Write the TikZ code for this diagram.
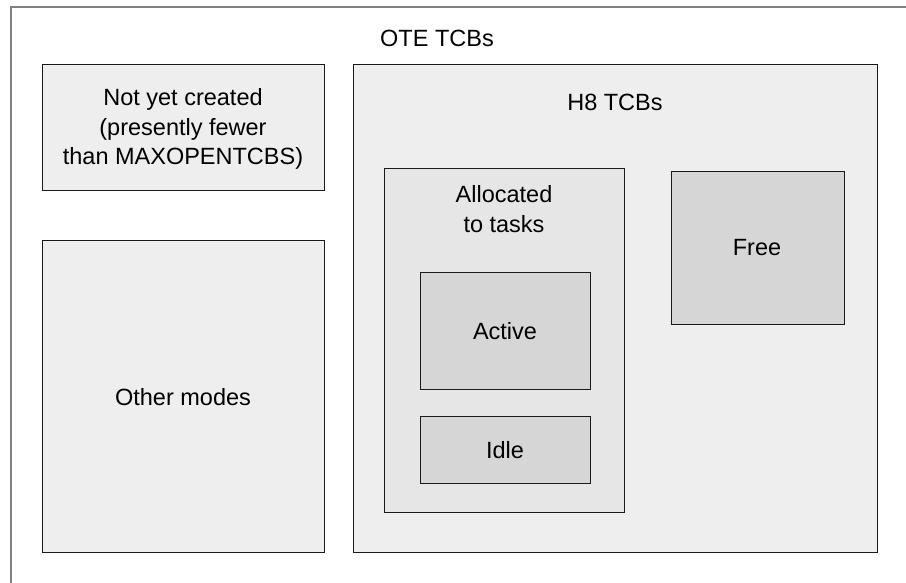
\documentclass[tikz,border=0pt]{standalone}
\usepackage{fontspec}
\setmainfont{Liberation Sans}
\definecolor{outerln}{HTML}{808080}
\definecolor{boxA}{HTML}{EEEEEE}
\definecolor{boxB}{HTML}{E6E6E6}
\definecolor{boxC}{HTML}{D6D6D6}
\definecolor{lnc}{HTML}{1A1A1A}
\tikzset{
  region/.style={draw=lnc, line width=1pt},
  lbl/.style={font=\fontsize{23.5}{29.5}\selectfont, align=center, inner sep=0pt, text=black}
}
\begin{document}
\begin{tikzpicture}[x=1pt,y=-1pt]
\useasboundingbox (0,0) rectangle (906,583);
\clip (0,0) rectangle (906,583);
\fill[white] (0,0) rectangle (906,583);
\draw[draw=outerln, line width=1.4pt, fill=white] (11,7) rectangle (930,610);
\node[lbl] (ote) at (437,38) {OTE TCBs};
% left column
\draw[region, fill=boxA] (42,65) rectangle (324,191);
\node[lbl] (nyc) at (183,129) {Not yet created\\(presently fewer\\than MAXOPENTCBS)};
\draw[region, fill=boxA] (42,241) rectangle (324,552);
\node[lbl] (other) at (183,397) {Other modes};
% H8
\draw[region, fill=boxA] (353,65) rectangle (877,552);
\node[lbl] (h8) at (615,102) {H8 TCBs};
\draw[region, fill=boxB] (384,169) rectangle (624,512);
\node[lbl] (alloc) at (504,209) {Allocated\\to tasks};
\draw[region, fill=boxC] (420,272) rectangle (590,389);
\node[lbl] (active) at (505,331) {Active};
\draw[region, fill=boxC] (420,416) rectangle (590,483);
\node[lbl] (idle) at (505,450) {Idle};
\draw[region, fill=boxC] (671,172) rectangle (844,324);
\node[lbl] (free) at (757,248) {Free};
\end{tikzpicture}
\end{document}
